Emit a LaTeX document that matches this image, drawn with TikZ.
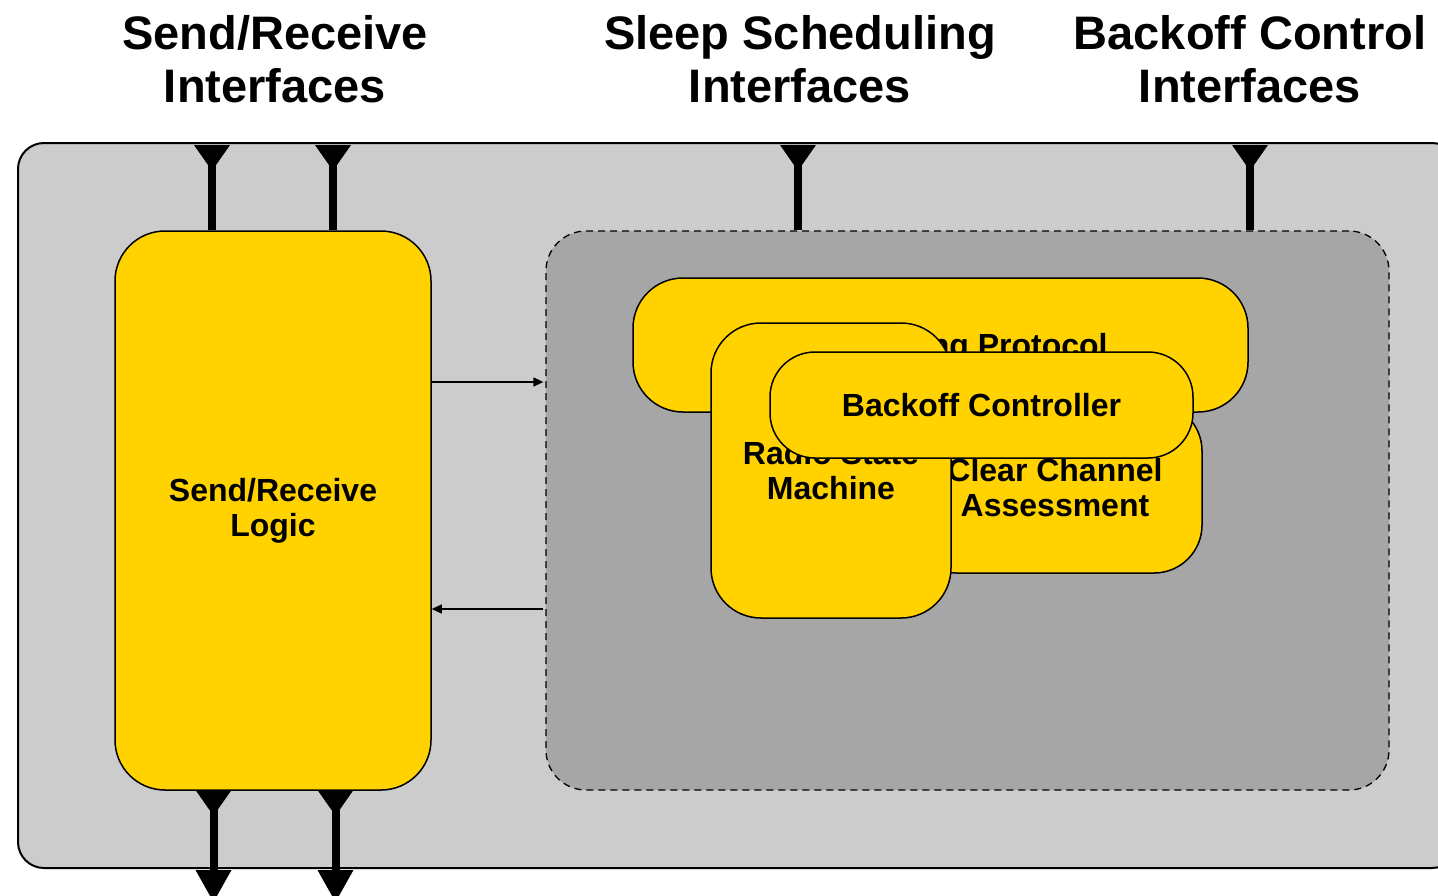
\documentclass[tikz,border=0pt]{standalone}
\usepackage{fontspec}
\setmainfont{Liberation Sans}
\usetikzlibrary{arrows.meta}
\definecolor{chip}{HTML}{FFD200}
\definecolor{shell}{HTML}{CCCCCC}
\definecolor{core}{HTML}{A6A6A6}
\tikzset{
  block/.style={draw=black, line width=1.5pt, fill=chip, inner sep=0pt,
    align=center, font=\bfseries\fontsize{32}{35}\selectfont},
  title/.style={align=center, font=\bfseries\fontsize{47}{53}\selectfont},
  stem/.style={line width=8pt},
  link/.style={line width=1.3pt, -{Triangle[length=10pt,width=9pt]}},
  funnel/.pic={\fill (-18,0) -- (18,0) -- (4,20) -- (-4,20) -- cycle;},
  tip/.pic={\fill (-18,0) -- (18,0) -- (0,32) -- cycle;}
}
\begin{document}
\begin{tikzpicture}[x=1pt,y=-1pt]
\useasboundingbox (0,0) rectangle (1438,895);
\clip (0,0) rectangle (1438,895);

% outer component
\node[draw=black, line width=2pt, fill=shell, rounded corners=26pt,
      minimum width=1440pt, minimum height=725pt, inner sep=0pt]
      (outer) at (738,505.5) {};

% titles
\node[title] (tSR) at (275,59) {Send/Receive\\Interfaces};
\node[title] (tSS) at (800,59) {Sleep Scheduling\\Interfaces};
\node[title] (tBC) at (1250,59) {Backoff Control\\Interfaces};

% inner MAC area
\node[draw=black, dashed, dash pattern=on 7pt off 5pt, line width=1.3pt,
      fill=core, rounded corners=40pt, minimum width=843pt,
      minimum height=559pt, inner sep=0pt] (mac) at (967.5,510.5) {};

% send/receive logic
\node[block, rounded corners=50pt, minimum width=316pt, minimum height=559pt]
      (logic) at (273,510.5) {Send/Receive\\Logic};

% stacked components
\node[block, rounded corners=50pt, minimum width=615pt, minimum height=134pt,
      text height=26pt, text depth=4pt]
      (duty) at (940.5,345) {Duty Cycling Protocol};
\node[block, rounded corners=48pt, minimum width=294pt, minimum height=170pt]
      (cca) at (1055,488) {Clear Channel\\Assessment};
\node[block, rounded corners=50pt, minimum width=240pt, minimum height=295pt]
      (rsm) at (831,470.5) {Radio State\\Machine};
\node[block, rounded corners=45pt, minimum width=423pt, minimum height=106pt]
      (backoff) at (981.5,405) {Backoff Controller};

% links between logic and MAC area
\draw[link] ([yshift=128.5pt]logic.east) -- ([yshift=128.5pt,xshift=-2pt]mac.west);
\draw[link] ([yshift=-98.5pt,xshift=-2pt]mac.west) -- ([yshift=-98.5pt]logic.east);

% provided interfaces on top
\coordinate (i1) at (212,145);
\coordinate (i2) at (333,145);
\coordinate (i3) at (798,145);
\coordinate (i4) at (1250,145);
\foreach \c/\t in {i1/logic, i2/logic, i3/mac, i4/mac}{
  \draw[stem] (\c) -- (\c |- \t.north);
  \pic at (\c) {funnel};
}

% used interfaces at the bottom
\coordinate (o1) at (213.5,790);
\coordinate (o2) at (335.5,790);
\coordinate (e1) at (213.5,870);
\coordinate (e2) at (335.5,870);
\foreach \c/\e in {o1/e1, o2/e2}{
  \draw[stem] (\c) -- (\e);
  \pic at (\c) {funnel};
  \pic at (\e) {tip};
}
\end{tikzpicture}
\end{document}
